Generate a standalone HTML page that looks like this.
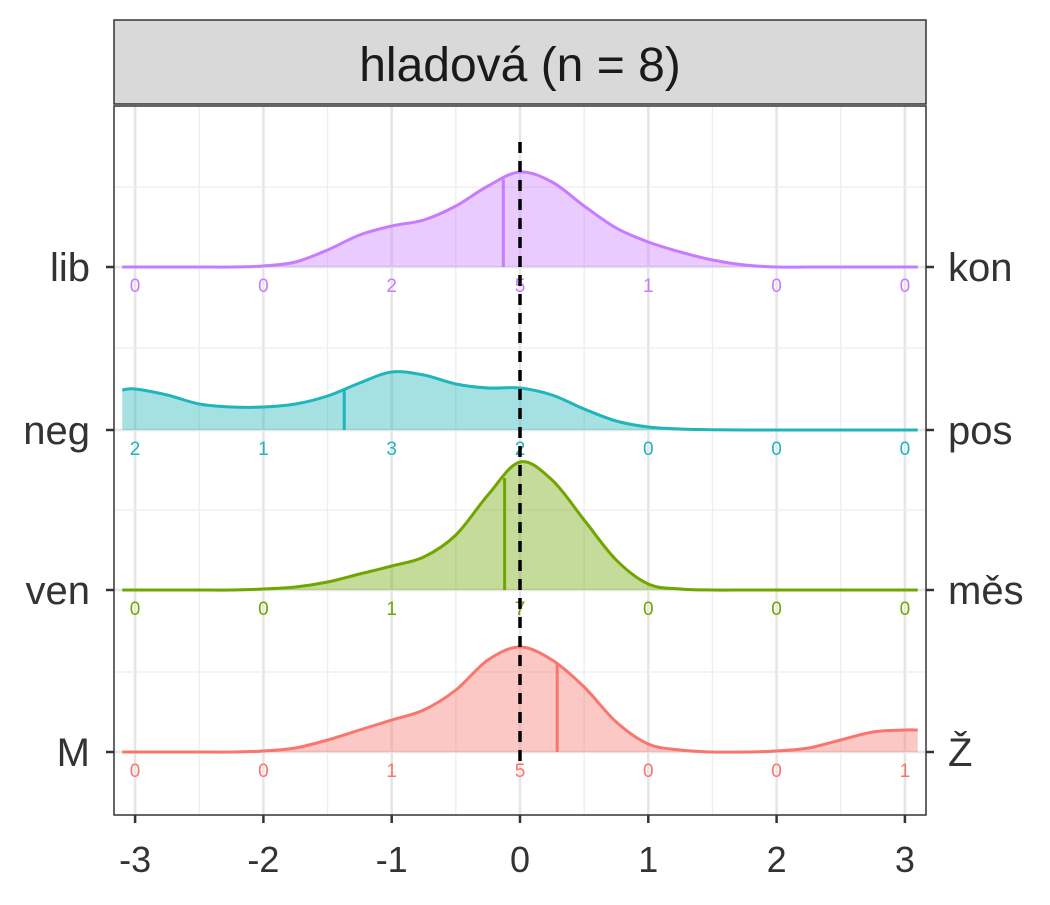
<!DOCTYPE html>
<html><head><meta charset="utf-8"><style>
body{margin:0;background:#fff}
svg text{font-family:"Liberation Sans",Arial,sans-serif}
</style></head><body>
<svg id="c" width="1050" height="900" xmlns="http://www.w3.org/2000/svg">
<rect x="0" y="0" width="1050" height="900" fill="#fff"/>
<rect x="114" y="20" width="812" height="84" fill="#d9d9d9" stroke="#333" stroke-width="1.5"/>
<text x="520" y="81" font-size="48" text-anchor="middle" fill="#1a1a1a">hladová (n = 8)</text>
<g id="grid"></g>
<g id="ridges"></g>
<line x1="520" y1="142" x2="520" y2="762" stroke="#000" stroke-width="3.5" stroke-dasharray="11,8"/>
<rect x="114" y="106" width="812" height="709" fill="none" stroke="#333" stroke-width="1.5"/>
<g id="axes"></g>
</svg>
<script>
const xs = [-3.1,-3,-2.75,-2.5,-2.25,-2,-1.75,-1.5,-1.25,-1,-0.75,-0.5,-0.25,0,0.25,0.5,0.75,1,1.25,1.5,1.75,2,2.25,2.5,2.75,3,3.1];
const leftLabels = ["lib","neg","ven","M"];
const rightLabels = ["kon","pos","měs","Ž"];
const colors = ["#C77CFF","#1FB5BA","#6FA600","#F8766D"];
const dLib = [0,0,0,0,0,1,5,17,32,41,47,61,81,95,85,61,39,25,15,7,2,0,0,0,0,0,0];
const dNeg = [40,41,35,26,23,23,26,34,47,58,55,46,42,42,35,21,9,3,1,0.3,0,0,0,0,0,0,0];
const dVen = [0,0,0,0,0,1,3,8,16,24,33,55,95,128,110,70,30,6,1,0,0,0,0,0,0,0,0];
const dM = [0,0,0,0,0,1,4,12,22,32,42,62,92,105,92,65,30,8,2,0,0,1,4,12,20,22,22];
const medians = [-0.13,-1.37,-0.12,0.29];
const countsLib = [0,0,2,5,1,0,0];
const countsNeg = [2,1,3,2,0,0,0];
const countsVen = [0,0,1,7,0,0,0];
const countsM = [0,0,1,5,0,0,1];
const xTicks = [-3,-2,-1,0,1,2,3];
const NS="http://www.w3.org/2000/svg";
const X = v => 520 + v*128.3;
const base = [267,430,590,752];
const Y = (i,h) => base[i]-h;
function mk(tag,attrs,parent){const e=document.createElementNS(NS,tag);for(const k in attrs)e.setAttribute(k,attrs[k]);parent.appendChild(e);return e;}
const grid=document.getElementById('grid'), ridges=document.getElementById('ridges'), axes=document.getElementById('axes');
for(let v=-3;v<=3;v+=0.5){const major=Number.isInteger(v);
 const l=mk('line',{x1:X(v),x2:X(v),y1:106,y2:815,stroke:major?'#e6e6e6':'#ededed','stroke-width':major?2.6:1.3},grid);
 
 }
const ygr=[187,267,348,430,510,590,672,752];
ygr.forEach((y,k)=>{const l=mk('line',{x1:114,x2:926,y1:y,y2:y,stroke:k%2?'#e6e6e6':'#ededed','stroke-width':k%2?2.6:1.3},grid);
 
 });
function smooth(pts){let d=`M${pts[0][0]},${pts[0][1]}`;
 for(let i=0;i<pts.length-1;i++){const p0=pts[Math.max(0,i-1)],p1=pts[i],p2=pts[i+1],p3=pts[Math.min(pts.length-1,i+2)];
 d+=` C${p1[0]+(p2[0]-p0[0])/6},${p1[1]+(p2[1]-p0[1])/6} ${p2[0]-(p3[0]-p1[0])/6},${p2[1]-(p3[1]-p1[1])/6} ${p2[0]},${p2[1]}`;}
 return d;}
function interp(arr,v){for(let i=0;i<xs.length-1;i++){if(v>=xs[i]&&v<=xs[i+1]){const t=(v-xs[i])/(xs[i+1]-xs[i]);return arr[i]+(arr[i+1]-arr[i])*t;}}return 0;}
const dens=[dLib,dNeg,dVen,dM], counts=[countsLib,countsNeg,countsVen,countsM];
const names=['lib','neg','ven','m'];
for(let i=3;i>=0;i--){
 const pts=xs.map((v,k)=>[X(v),Y(i,dens[i][k])]);
 const line=smooth(pts);
 const area=mk('path',{d:line+` L${X(xs[xs.length-1])},${base[i]} L${X(xs[0])},${base[i]} Z`,fill:colors[i],'fill-opacity':0.4,stroke:'none'},ridges);
 
 
 const p=mk('path',{d:line,fill:'none',stroke:colors[i],'stroke-width':3},ridges);
 
 
 const m=medians[i];
 const ml=mk('line',{x1:X(m),x2:X(m),y1:base[i],y2:Y(i,interp(dens[i],m)),stroke:colors[i],'stroke-width':3},ridges);
 
 
 counts[i].forEach((c,k)=>{const t=mk('text',{x:X(xTicks[k]),y:base[i]+25,'font-size':19,'text-anchor':'middle',fill:colors[i]},ridges);t.textContent=c;
  
  });
}
for(let i=0;i<4;i++){
 mk('line',{x1:106,x2:114,y1:base[i],y2:base[i],stroke:'#333','stroke-width':2.5},axes);
 mk('line',{x1:926,x2:934,y1:base[i],y2:base[i],stroke:'#333','stroke-width':2.5},axes);
 const a=mk('text',{x:90,y:base[i]+14,'font-size':40,'text-anchor':'end',fill:'#333'},axes);a.textContent=leftLabels[i];
 
 
 const b=mk('text',{x:948,y:base[i]+14,'font-size':40,'text-anchor':'start',fill:'#333'},axes);b.textContent=rightLabels[i];
 
 
}
xTicks.forEach(v=>{mk('line',{x1:X(v),x2:X(v),y1:815,y2:823,stroke:'#333','stroke-width':2.5},axes);
 const t=mk('text',{x:X(v),y:872,'font-size':36,'text-anchor':'middle',fill:'#333'},axes);t.textContent=v;
 
 });
</script>
</body></html>
